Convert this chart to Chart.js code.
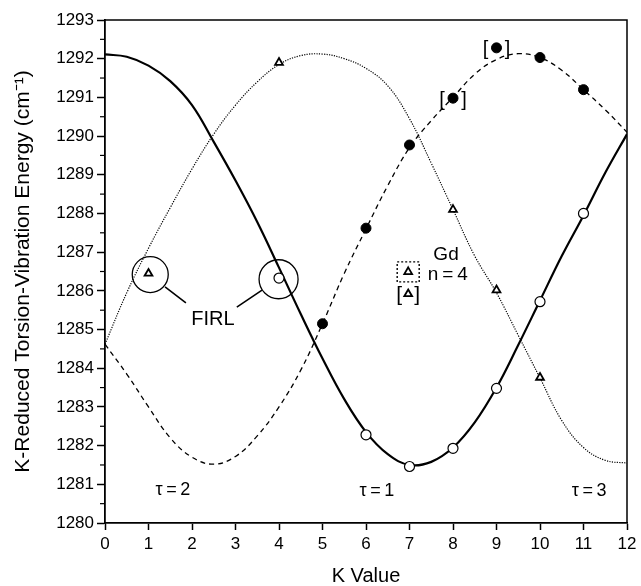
<!DOCTYPE html>
<html lang="en">
  <head>
    <meta charset="UTF-8" />
    <title>K-Reduced Torsion-Vibration Energy</title>
    <script src="https://cdn.jsdelivr.net/npm/chart.js"></script>
    <style>
      html, body { margin: 0; padding: 0; background: #fff; }
      #wrap { width: 641px; height: 586px; }
    </style>
  </head>
  <body>
    <div id="wrap"><canvas id="torsion"></canvas></div>
    <script>
      // K grid for the fitted curves (every 0.5 K)
      const kCurve = [0, 0.5, 1, 1.5, 2, 2.5, 3, 3.5, 4, 4.5, 5, 5.5, 6, 6.5, 7, 7.5, 8, 8.5, 9, 9.5, 10, 10.5, 11, 11.5, 12];
      // tau = 1 (solid)
      const tau1Curve = [1292.11, 1292.05, 1291.82, 1291.42, 1290.8, 1289.85, 1288.85, 1287.78, 1286.6, 1285.4, 1284.25, 1283.2,
        1282.35, 1281.78, 1281.5, 1281.58, 1281.95, 1282.6, 1283.5, 1284.6, 1285.75, 1286.9, 1287.95, 1289.05, 1290.05];
      // tau = 2 (dashed)
      const tau2Curve = [1284.62, 1283.85, 1283.0, 1282.2, 1281.7, 1281.52, 1281.72, 1282.25, 1283.0, 1283.95, 1285.15, 1286.45,
        1287.6, 1288.72, 1289.7, 1290.4, 1291.0, 1291.6, 1291.98, 1292.13, 1292.03, 1291.7, 1291.2, 1290.68, 1290.1];
      // tau = 3 (dotted)
      const tau3Curve = [1284.62, 1285.95, 1287.1, 1288.15, 1289.15, 1290.05, 1290.8, 1291.4, 1291.85, 1292.08, 1292.12, 1292.0,
        1291.75, 1291.3, 1290.45, 1289.3, 1288.1, 1286.9, 1285.95, 1284.85, 1283.75, 1282.65, 1281.95, 1281.62, 1281.55];

      // measured levels
      const kOpen = [4, 6, 7, 8, 9, 10, 11];
      const eOpen = [1286.33, 1282.28, 1281.46, 1281.93, 1283.48, 1285.72, 1288.0];
      const kFilled = [5, 6, 7, 8, 9, 10, 11];
      const eFilled = [1285.15, 1287.62, 1289.77, 1290.98, 1292.28, 1292.03, 1291.2];
      const kTri = [1, 4, 8, 9, 10];
      const eTri = [1286.45, 1291.9, 1288.1, 1286.02, 1283.76];

      const xTicks = [0, 1, 2, 3, 4, 5, 6, 7, 8, 9, 10, 11, 12];
      const yTicks = [1280, 1281, 1282, 1283, 1284, 1285, 1286, 1287, 1288, 1289, 1290, 1291, 1292, 1293];

      const pts = (xs, ys) => xs.map((x, i) => ({ x: x, y: ys[i] }));
      const FONT = "'Liberation Sans', Arial, Helvetica, sans-serif";

      // frame, minor ticks and the text annotations
      const extras = {
        id: "extras",
        afterDatasetsDraw(chart) {
          const { ctx, chartArea: a, scales } = chart;
          const X = (v) => scales.x.getPixelForValue(v);
          const Y = (v) => scales.y.getPixelForValue(v);
          ctx.save();
          ctx.strokeStyle = "#000";
          ctx.fillStyle = "#000";

          // top + right frame
          ctx.lineWidth = 1.5;
          ctx.beginPath();
          ctx.moveTo(a.left, a.top);
          ctx.lineTo(a.right, a.top);
          ctx.lineTo(a.right, a.bottom);
          ctx.stroke();

          // minor y ticks at .5
          ctx.lineWidth = 1.2;
          for (let i = 0; i < yTicks.length - 1; i++) {
            const py = Y(yTicks[i] + 0.5);
            ctx.beginPath();
            ctx.moveTo(a.left - 5, py);
            ctx.lineTo(a.left, py);
            ctx.stroke();
          }

          // FIRL circles + leader lines
          ctx.lineWidth = 1.3;
          ctx.beginPath();
          ctx.arc(X(1.04), Y(1286.42), 18, 0, Math.PI * 2);
          ctx.stroke();
          ctx.beginPath();
          ctx.arc(X(3.99), Y(1286.3), 19.5, 0, Math.PI * 2);
          ctx.stroke();
          ctx.lineWidth = 1.6;
          ctx.beginPath();
          ctx.moveTo(X(1.38), Y(1286.1));
          ctx.lineTo(X(1.86), Y(1285.69));
          ctx.moveTo(X(3.61), Y(1286.02));
          ctx.lineTo(X(3.03), Y(1285.58));
          ctx.stroke();

          ctx.textAlign = "center";
          ctx.textBaseline = "middle";
          ctx.font = "20px " + FONT;
          ctx.fillText("FIRL", X(2.48), Y(1285.27));

          // Gd n=4 key
          ctx.font = "19px " + FONT;
          ctx.fillText("Gd", X(7.84), Y(1286.93));
          ctx.fillText("n\u2009=\u20094", X(7.88), Y(1286.41));

          const bx = X(6.97), by = Y(1286.49);
          ctx.lineWidth = 1.4;
          ctx.setLineDash([2, 2]);
          ctx.strokeRect(bx - 11, by - 10, 22, 20);
          ctx.setLineDash([]);
          ctx.font = "21px " + FONT;
          ctx.fillText("[", X(6.97) - 9, Y(1285.92) + 1);
          ctx.fillText("]", X(6.97) + 9, Y(1285.92) + 1);

          // brackets around two filled points
          ctx.font = "20px " + FONT;
          ctx.fillText("[", X(8) - 11, Y(1290.98) + 2);
          ctx.fillText("]", X(8) + 11, Y(1290.98) + 2);
          ctx.fillText("[", X(9) - 11, Y(1292.28) + 2);
          ctx.fillText("]", X(9) + 11, Y(1292.28) + 2);

          // tau labels
          ctx.font = "18px " + FONT;
          ctx.fillText("\u03c4\u2009=\u20092", X(1.56), Y(1280.86));
          ctx.fillText("\u03c4\u2009=\u20091", X(6.25), Y(1280.83));
          ctx.fillText("\u03c4\u2009=\u20093", X(11.13), Y(1280.83));
          ctx.restore();
        },
      };

      const keyTri = {
        id: "keyTri",
        afterDraw(chart) {
          // the two key triangles, same style as the data triangles
          const { ctx, scales } = chart;
          const X = (v) => scales.x.getPixelForValue(v);
          const Y = (v) => scales.y.getPixelForValue(v);
          const opts = { pointStyle: "triangle", radius: 4.5, borderWidth: 1.8 };
          ctx.save();
          ctx.fillStyle = "#fff";
          ctx.strokeStyle = "#000";
          ctx.lineWidth = 1.8;
          Chart.helpers.drawPoint(ctx, opts, X(6.97), Y(1286.49));
          Chart.helpers.drawPoint(ctx, opts, X(6.97), Y(1285.92));
          ctx.restore();
        },
      };

      new Chart(document.getElementById("torsion"), {
        type: "scatter",
        data: {
          datasets: [
            {
              label: "open",
              data: pts(kOpen, eOpen),
              pointStyle: "circle",
              pointRadius: 5,
              pointBackgroundColor: "#fff",
              pointBorderColor: "#000",
              pointBorderWidth: 1.2,
              order: 1,
            },
            {
              label: "filled",
              data: pts(kFilled, eFilled),
              pointStyle: "circle",
              pointRadius: 5,
              pointBackgroundColor: "#000",
              pointBorderColor: "#000",
              pointBorderWidth: 1,
              order: 1,
            },
            {
              label: "tri",
              data: pts(kTri, eTri),
              pointStyle: "triangle",
              pointRadius: 4.5,
              pointBackgroundColor: "#fff",
              pointBorderColor: "#000",
              pointBorderWidth: 1.8,
              order: 1,
            },
            {
              label: "tau1",
              data: pts(kCurve, tau1Curve),
              showLine: true,
              pointRadius: 0,
              borderColor: "#000",
              borderWidth: 2.2,
              tension: 0.4,
              order: 2,
            },
            {
              label: "tau2",
              data: pts(kCurve, tau2Curve),
              showLine: true,
              pointRadius: 0,
              borderColor: "#000",
              borderWidth: 1.3,
              borderDash: [5, 4],
              tension: 0.4,
              order: 2,
            },
            {
              label: "tau3",
              data: pts(kCurve, tau3Curve),
              showLine: true,
              pointRadius: 0,
              borderColor: "#000",
              borderWidth: 1.2,
              borderDash: [1.2, 1.3],
              tension: 0.4,
              order: 2,
            },
          ],
        },
        options: {
          responsive: true,
          maintainAspectRatio: false,
          animation: false,
          layout: { padding: { top: 20, right: 14, left: 0, bottom: 0 } },
          plugins: { legend: { display: false }, tooltip: { enabled: false } },
          scales: {
            x: {
              type: "linear",
              min: 0,
              max: 12,
              afterBuildTicks: (s) => { s.ticks = xTicks.map((v) => ({ value: v })); },
              afterFit: (s) => { s.height = 63; },
              ticks: { color: "#000", padding: 4, font: { family: FONT, size: 17 }, callback: (v) => String(v) },
              grid: { drawOnChartArea: false, drawTicks: true, tickLength: 7, tickColor: "#000", tickWidth: 1.5 },
              border: { color: "#000", width: 1.8 },
              title: {
                display: true,
                text: "K Value",
                color: "#000",
                font: { family: FONT, size: 20, lineHeight: 1 },
                padding: 0,
              },
            },
            y: {
              type: "linear",
              min: 1280,
              max: 1293,
              afterBuildTicks: (s) => { s.ticks = yTicks.map((v) => ({ value: v })); },
              afterFit: (s) => { s.width = 105; },
              ticks: { color: "#000", padding: 3, font: { family: FONT, size: 17 }, callback: (v) => String(v) },
              grid: { drawOnChartArea: false, drawTicks: true, tickLength: 8, tickColor: "#000", tickWidth: 1.5 },
              border: { color: "#000", width: 1.8 },
              title: {
                display: true,
                text: "K-Reduced Torsion-Vibration Energy (cm\u207b\u00b9)",
                color: "#000",
                font: { family: FONT, size: 21, lineHeight: 1.2 },
                padding: { top: 11, bottom: 0 },
              },
            },
          },
        },
        plugins: [extras, keyTri],
      });
    </script>
  </body>
</html>
